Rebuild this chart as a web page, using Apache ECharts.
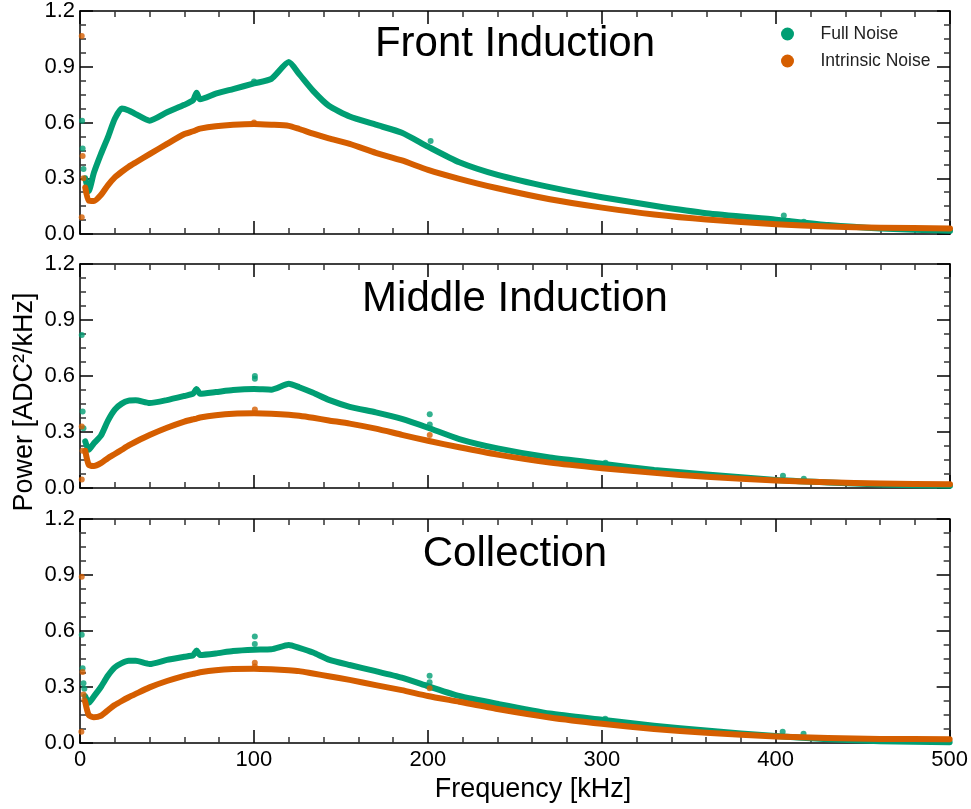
<!DOCTYPE html>
<html><head><meta charset="utf-8">
<script src="https://cdn.jsdelivr.net/npm/echarts@6/dist/echarts.min.js"></script>
<style>html,body{margin:0;padding:0;background:#fff}#c{width:971px;height:809px}</style>
</head><body><div id="c"></div>
<script>
// ---------- DATA ----------
const panelTitles = ['Front Induction', 'Middle Induction', 'Collection'];
const seriesNames = ['Full Noise', 'Intrinsic Noise'];
const xTickValues = [0, 100, 200, 300, 400, 500];
const yTickValues = [0.0, 0.3, 0.6, 0.9, 1.2];

// frequency samples (kHz) at which the dense point bands were read
const freq = [3, 5, 8, 12, 16, 20, 24, 28, 32, 40, 50, 60, 65, 67, 69, 78, 88, 100, 110, 120, 126, 134, 143, 155, 170, 185, 200, 218, 240, 270, 300, 330, 360, 400, 430, 460, 500];

const frontFull = [0.30, 0.23, 0.33, 0.43, 0.52, 0.62, 0.675, 0.665, 0.645, 0.61, 0.655, 0.695, 0.72, 0.76, 0.725, 0.755, 0.78, 0.81, 0.835, 0.925, 0.86, 0.77, 0.69, 0.632, 0.588, 0.545, 0.47, 0.386, 0.318, 0.252, 0.198, 0.152, 0.112, 0.077, 0.048, 0.030, 0.017];
const frontIntrinsic = [0.25, 0.18, 0.178, 0.21, 0.262, 0.305, 0.335, 0.362, 0.385, 0.43, 0.485, 0.538, 0.553, 0.56, 0.567, 0.58, 0.588, 0.592, 0.588, 0.582, 0.565, 0.54, 0.515, 0.485, 0.437, 0.396, 0.345, 0.297, 0.246, 0.187, 0.142, 0.105, 0.078, 0.052, 0.040, 0.034, 0.030];
const middleFull = [0.25, 0.205, 0.24, 0.28, 0.36, 0.42, 0.452, 0.468, 0.47, 0.455, 0.471, 0.493, 0.505, 0.53, 0.505, 0.514, 0.525, 0.53, 0.527, 0.558, 0.54, 0.51, 0.472, 0.435, 0.405, 0.37, 0.323, 0.262, 0.212, 0.163, 0.13, 0.097, 0.072, 0.043, 0.030, 0.019, 0.012];
const middleIntrinsic = [0.20, 0.125, 0.118, 0.133, 0.16, 0.182, 0.205, 0.228, 0.248, 0.284, 0.323, 0.356, 0.368, 0.372, 0.378, 0.39, 0.398, 0.40, 0.398, 0.393, 0.387, 0.376, 0.362, 0.345, 0.318, 0.285, 0.253, 0.218, 0.179, 0.136, 0.106, 0.081, 0.06, 0.040, 0.031, 0.024, 0.020];
const collectionFull = [0.25, 0.215, 0.25, 0.30, 0.36, 0.405, 0.428, 0.44, 0.44, 0.423, 0.445, 0.462, 0.47, 0.495, 0.472, 0.48, 0.493, 0.50, 0.502, 0.525, 0.51, 0.485, 0.447, 0.418, 0.385, 0.35, 0.305, 0.252, 0.21, 0.158, 0.125, 0.093, 0.067, 0.037, 0.020, 0.010, 0.004];
const collectionIntrinsic = [0.22, 0.15, 0.138, 0.146, 0.175, 0.203, 0.225, 0.245, 0.263, 0.298, 0.332, 0.36, 0.37, 0.374, 0.379, 0.39, 0.396, 0.398, 0.395, 0.39, 0.385, 0.372, 0.358, 0.338, 0.31, 0.283, 0.252, 0.221, 0.182, 0.137, 0.103, 0.075, 0.055, 0.035, 0.027, 0.022, 0.020];

// isolated points (frequency, power)
const frontFullOutliers = [[1.2, 0.61], [1.5, 0.46], [2, 0.35], [100, 0.82], [201.5, 0.50], [404.5, 0.10], [407, 0.07], [416, 0.066]];
const frontIntrinsicOutliers = [[1, 1.065], [1.5, 0.42], [2, 0.30], [1, 0.09], [100, 0.60]];
const middleFullOutliers = [[1, 0.82], [1.5, 0.41], [2, 0.32], [100.5, 0.60], [100.5, 0.585], [201, 0.395], [201, 0.34], [302, 0.135], [404, 0.066], [416, 0.05]];
const middleIntrinsicOutliers = [[1, 0.33], [1.5, 0.20], [1, 0.046], [100.5, 0.42], [201, 0.284]];
const collectionFullOutliers = [[1, 0.58], [1.5, 0.40], [2, 0.32], [2.5, 0.29], [100.5, 0.57], [100.5, 0.53], [201, 0.36], [201, 0.325], [302, 0.13], [404, 0.06], [416, 0.05]];
const collectionIntrinsicOutliers = [[1, 0.89], [1.5, 0.38], [2, 0.26], [2.5, 0.23], [0.8, 0.06], [100.5, 0.43], [100.5, 0.41], [201, 0.293]];

// ---------- CHART ----------
const GREEN = '#009E73', ORANGE = '#D55E00';
const FONT = '"Liberation Sans", Arial, Helvetica, sans-serif';
const panels = [
  { full: frontFull, intr: frontIntrinsic, fo: frontFullOutliers, io: frontIntrinsicOutliers },
  { full: middleFull, intr: middleIntrinsic, fo: middleFullOutliers, io: middleIntrinsicOutliers },
  { full: collectionFull, intr: collectionIntrinsic, fo: collectionFullOutliers, io: collectionIntrinsicOutliers }
];
const gridTops = [9, 264, 519];
const gridHeights = [225, 224, 224];
const titleTops = [18, 273, 528];

const grid = [], xAxis = [], yAxis = [], series = [], title = [];

function axisCommon(showLabel) {
  return {
    axisLine: { show: true, onZero: false, lineStyle: { color: '#000', width: 1.5 } },
    axisTick: { show: true, inside: true, length: 13, lineStyle: { color: '#000', width: 1.5 } },
    minorTick: { show: true, length: 6, lineStyle: { color: '#333', width: 1.5 } },
    splitLine: { show: false }, minorSplitLine: { show: false },
    axisLabel: { show: showLabel, color: '#000', fontSize: 22, fontFamily: FONT }
  };
}

panels.forEach((p, i) => {
  grid.push({ left: 80, right: 21, top: gridTops[i], height: gridHeights[i], containLabel: false });
  const xb = axisCommon(i === 2);
  xb.axisLabel.margin = 6;
  xb.axisLabel.formatter = v => xTickValues.includes(v) ? String(v) : '';
  xb.minorTick.splitNumber = 5;
  xAxis.push(Object.assign({ type: 'value', gridIndex: i, position: 'bottom', min: 0, max: 500, interval: 100 }, xb));
  const xt = axisCommon(false);
  xt.minorTick.splitNumber = 5;
  xAxis.push(Object.assign({ type: 'value', gridIndex: i, position: 'top', min: 0, max: 500, interval: 100 }, xt));
  const yl = axisCommon(true);
  yl.axisLabel.margin = 5;
  yl.axisLabel.formatter = v => v.toFixed(1);
  yl.minorTick.splitNumber = 4;
  yAxis.push(Object.assign({ type: 'value', gridIndex: i, position: 'left', min: 0, max: 1.2, interval: 0.3 }, yl));
  const yr = axisCommon(false);
  yr.minorTick.splitNumber = 4;
  yAxis.push(Object.assign({ type: 'value', gridIndex: i, position: 'right', min: 0, max: 1.2, interval: 0.3 }, yr));

  const xi = i * 2, yi = i * 2;
  const mkLine = (name, vals, color, z) => ({
    name, type: 'line', xAxisIndex: xi, yAxisIndex: yi, showSymbol: false, symbol: 'circle', smooth: 0.2,
    data: freq.map((f, k) => [f, vals[k]]),
    itemStyle: { color }, lineStyle: { color, width: 6, cap: 'round', join: 'round' },
    z, animation: false, silent: true
  });
  const mkScatter = (name, pts, color, z) => ({
    name, type: 'scatter', xAxisIndex: xi, yAxisIndex: yi, symbol: 'circle', symbolSize: 6,
    data: pts, itemStyle: { color }, z, animation: false, silent: true
  });
  series.push(mkLine(seriesNames[0], p.full, GREEN, 2));
  series.push(mkScatter(seriesNames[0], p.fo, GREEN, 2));
  series.push(mkLine(seriesNames[1], p.intr, ORANGE, 3));
  series.push(mkScatter(seriesNames[1], p.io, ORANGE, 3));

  title.push({ text: panelTitles[i], left: 510, top: titleTops[i], textAlign: 'center',
    textStyle: { fontSize: 42, fontWeight: 'normal', color: '#000', fontFamily: FONT } });
});

const chart = echarts.init(document.getElementById('c'), null, { renderer: 'canvas' });
chart.setOption({
  backgroundColor: '#fff',
  animation: false,
  title,
  grid, xAxis, yAxis, series,
  legend: {
    data: [{ name: seriesNames[0], icon: 'circle' }, { name: seriesNames[1], icon: 'circle' }],
    orient: 'vertical', left: 776, top: 20, itemWidth: 56, itemHeight: 13, itemGap: 9,
    textStyle: { fontSize: 17.5, color: '#222', fontFamily: FONT }, selectedMode: false
  },
  graphic: [
    { type: 'text', x: 25, y: 402, rotation: Math.PI / 2,
      style: { text: 'Power [ADC\u00B2/kHz]', fontSize: 27, fontFamily: FONT, fill: '#000', align: 'center', verticalAlign: 'middle' } },
    { type: 'text', x: 533, y: 790,
      style: { text: 'Frequency [kHz]', fontSize: 27, fontFamily: FONT, fill: '#000', align: 'center', verticalAlign: 'middle' } }
  ]
});
</script>
</body></html>
